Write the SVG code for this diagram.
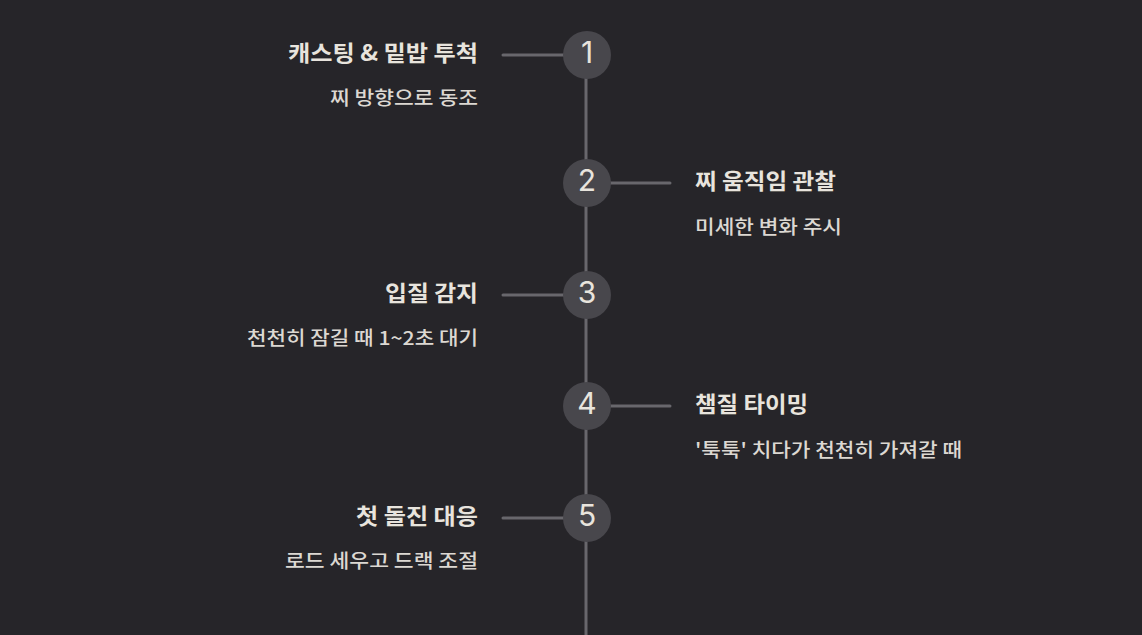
<svg xmlns="http://www.w3.org/2000/svg" width="1142" height="635" viewBox="0 0 1142 635">
<style>
.title{font-family:"Noto Sans CJK KR","Noto Sans",sans-serif;font-size:22px;font-weight:700;fill:#e8e4dd}
.sub{font-family:"Noto Sans CJK KR","Noto Sans",sans-serif;font-size:19px;font-weight:500;fill:#dcd8d2}
.num{font-family:"Inter","Noto Sans",sans-serif;font-size:30px;fill:#e8e4dd;text-anchor:middle}
.dot{fill:#48474c}
.ln{stroke:#68676c;stroke-width:3;fill:none;stroke-linecap:round}
.l{text-anchor:end}
</style>
<rect width="1142" height="635" fill="#262529"/>
<g id="connectors">
<line class="ln" x1="586" y1="55" x2="586" y2="640" style="stroke-linecap:butt"/>
<line class="ln" x1="503" y1="55" x2="565" y2="55"/>
<line class="ln" x1="610" y1="183" x2="670" y2="183"/>
<line class="ln" x1="503" y1="295" x2="565" y2="295"/>
<line class="ln" x1="610" y1="406" x2="670" y2="406"/>
<line class="ln" x1="503" y1="518" x2="565" y2="518"/>
</g>
<g id="n1"><circle class="dot" cx="587" cy="55" r="24"/><text class="num" x="587" y="63">1</text>
<text class="title l" x="478" y="61" textLength="190" lengthAdjust="spacingAndGlyphs">캐스팅 &amp; 밑밥 투척</text><text class="sub l" x="478" y="105" textLength="148" lengthAdjust="spacingAndGlyphs">찌 방향으로 동조</text></g>
<g id="n2"><circle class="dot" cx="587" cy="183" r="24"/><text class="num" x="587" y="191">2</text>
<text class="title" x="695" y="189" textLength="141" lengthAdjust="spacingAndGlyphs">찌 움직임 관찰</text><text class="sub" x="695" y="234" textLength="147" lengthAdjust="spacingAndGlyphs">미세한 변화 주시</text></g>
<g id="n3"><circle class="dot" cx="587" cy="295" r="24"/><text class="num" x="587" y="303">3</text>
<text class="title l" x="478" y="301" textLength="93" lengthAdjust="spacingAndGlyphs">입질 감지</text><text class="sub l" x="478" y="345" textLength="231" lengthAdjust="spacingAndGlyphs">천천히 잠길 때 1~2초 대기</text></g>
<g id="n4"><circle class="dot" cx="587" cy="406" r="24"/><text class="num" x="587" y="414">4</text>
<text class="title" x="695" y="412" textLength="113" lengthAdjust="spacingAndGlyphs">챔질 타이밍</text><text class="sub" x="695" y="457" textLength="267" lengthAdjust="spacingAndGlyphs">'툭툭' 치다가 천천히 가져갈 때</text></g>
<g id="n5"><circle class="dot" cx="587" cy="518" r="24"/><text class="num" x="587" y="526">5</text>
<text class="title l" x="478" y="524" textLength="122" lengthAdjust="spacingAndGlyphs">첫 돌진 대응</text><text class="sub l" x="478" y="568" textLength="193" lengthAdjust="spacingAndGlyphs">로드 세우고 드랙 조절</text></g>
</svg>
